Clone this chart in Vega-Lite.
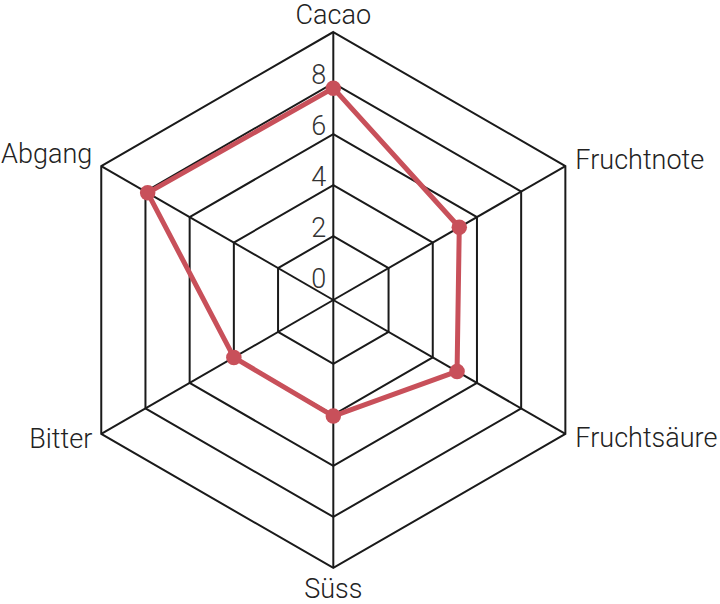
{
  "$schema": "https://vega.github.io/schema/vega-lite/v6.json",
  "width": 720,
  "height": 604,
  "padding": 0,
  "autosize": {"type": "none"},
  "config": {
    "view": {"stroke": null},
    "text": {"font": "Roboto", "fontWeight": 300, "fontSize": 27, "color": "#222222"}
  },
  "datasets": {
    "taste": [
      {"axis": "Cacao", "i": 0, "value": 7.8},
      {"axis": "Fruchtnote", "i": 1, "value": 5.2},
      {"axis": "Fruchtsäure", "i": 2, "value": 5.1},
      {"axis": "Süss", "i": 3, "value": 4.05},
      {"axis": "Bitter", "i": 4, "value": 4},
      {"axis": "Abgang", "i": 5, "value": 7.9}
    ],
    "grid": [
      {"level": 2, "i": 0}, {"level": 2, "i": 1}, {"level": 2, "i": 2}, {"level": 2, "i": 3}, {"level": 2, "i": 4}, {"level": 2, "i": 5},
      {"level": 4, "i": 0}, {"level": 4, "i": 1}, {"level": 4, "i": 2}, {"level": 4, "i": 3}, {"level": 4, "i": 4}, {"level": 4, "i": 5},
      {"level": 6, "i": 0}, {"level": 6, "i": 1}, {"level": 6, "i": 2}, {"level": 6, "i": 3}, {"level": 6, "i": 4}, {"level": 6, "i": 5},
      {"level": 8, "i": 0}, {"level": 8, "i": 1}, {"level": 8, "i": 2}, {"level": 8, "i": 3}, {"level": 8, "i": 4}, {"level": 8, "i": 5},
      {"level": 10, "i": 0}, {"level": 10, "i": 1}, {"level": 10, "i": 2}, {"level": 10, "i": 3}, {"level": 10, "i": 4}, {"level": 10, "i": 5}
    ],
    "ticks": [
      {"level": 0}, {"level": 2}, {"level": 4}, {"level": 6}, {"level": 8}
    ]
  },
  "encoding": {
    "x": {
      "field": "px",
      "type": "quantitative",
      "scale": {"domain": [-13.061, 15.153], "nice": false, "zero": false},
      "axis": null
    },
    "y": {
      "field": "py",
      "type": "quantitative",
      "scale": {"domain": [-11.912, 11.755], "nice": false, "zero": false},
      "axis": null
    }
  },
  "layer": [
    {
      "data": {"name": "grid"},
      "transform": [
        {"calculate": "(datum.level + 0.5) * sin(datum.i * PI / 3)", "as": "px"},
        {"calculate": "(datum.level + 0.5) * cos(datum.i * PI / 3)", "as": "py"}
      ],
      "mark": {"type": "line", "interpolate": "linear-closed", "stroke": "#1a1a1a", "strokeWidth": 2},
      "encoding": {
        "detail": {"field": "level"},
        "order": {"field": "i"}
      }
    },
    {
      "data": {"name": "taste"},
      "transform": [
        {"calculate": "10.5 * sin(datum.i * PI / 3)", "as": "px"},
        {"calculate": "10.5 * cos(datum.i * PI / 3)", "as": "py"}
      ],
      "mark": {"type": "rule", "stroke": "#1a1a1a", "strokeWidth": 2},
      "encoding": {
        "x2": {"datum": 0},
        "y2": {"datum": 0}
      }
    },
    {
      "data": {"name": "ticks"},
      "transform": [
        {"calculate": "0", "as": "px"},
        {"calculate": "datum.level + 0.5", "as": "py"}
      ],
      "mark": {"type": "text", "align": "right", "baseline": "alphabetic", "dx": -7, "dy": 1, "color": "#333333"},
      "encoding": {"text": {"field": "level"}}
    },
    {
      "data": {"name": "taste"},
      "transform": [
        {"calculate": "(datum.value + 0.5) * sin(datum.i * PI / 3)", "as": "px"},
        {"calculate": "(datum.value + 0.5) * cos(datum.i * PI / 3)", "as": "py"}
      ],
      "mark": {"type": "line", "interpolate": "linear-closed", "stroke": "#c8505a", "strokeWidth": 5, "strokeJoin": "round"},
      "encoding": {"order": {"field": "i"}}
    },
    {
      "data": {"name": "taste"},
      "transform": [
        {"calculate": "(datum.value + 0.5) * sin(datum.i * PI / 3)", "as": "px"},
        {"calculate": "(datum.value + 0.5) * cos(datum.i * PI / 3)", "as": "py"}
      ],
      "mark": {"type": "point", "filled": true, "size": 240, "color": "#c8505a", "opacity": 1},
      "encoding": {}
    },
    {
      "data": {"name": "taste"},
      "transform": [
        {"filter": "datum.i == 0"},
        {"calculate": "10.5 * sin(datum.i * PI / 3)", "as": "px"},
        {"calculate": "10.5 * cos(datum.i * PI / 3)", "as": "py"}
      ],
      "mark": {"type": "text", "align": "center", "baseline": "top", "dy": -29},
      "encoding": {"text": {"field": "axis"}}
    },
    {
      "data": {"name": "taste"},
      "transform": [
        {"filter": "datum.i == 1"},
        {"calculate": "10.5 * sin(datum.i * PI / 3)", "as": "px"},
        {"calculate": "10.5 * cos(datum.i * PI / 3)", "as": "py"}
      ],
      "mark": {"type": "text", "align": "left", "baseline": "alphabetic", "dx": 10, "dy": 3},
      "encoding": {"text": {"field": "axis"}}
    },
    {
      "data": {"name": "taste"},
      "transform": [
        {"filter": "datum.i == 2"},
        {"calculate": "10.5 * sin(datum.i * PI / 3)", "as": "px"},
        {"calculate": "10.5 * cos(datum.i * PI / 3)", "as": "py"}
      ],
      "mark": {"type": "text", "align": "left", "baseline": "alphabetic", "dx": 10, "dy": 13},
      "encoding": {"text": {"field": "axis"}}
    },
    {
      "data": {"name": "taste"},
      "transform": [
        {"filter": "datum.i == 3"},
        {"calculate": "10.5 * sin(datum.i * PI / 3)", "as": "px"},
        {"calculate": "10.5 * cos(datum.i * PI / 3)", "as": "py"}
      ],
      "mark": {"type": "text", "align": "center", "baseline": "alphabetic", "dy": 30},
      "encoding": {"text": {"field": "axis"}}
    },
    {
      "data": {"name": "taste"},
      "transform": [
        {"filter": "datum.i == 4"},
        {"calculate": "10.5 * sin(datum.i * PI / 3)", "as": "px"},
        {"calculate": "10.5 * cos(datum.i * PI / 3)", "as": "py"}
      ],
      "mark": {"type": "text", "align": "right", "baseline": "alphabetic", "dx": -9, "dy": 14},
      "encoding": {"text": {"field": "axis"}}
    },
    {
      "data": {"name": "taste"},
      "transform": [
        {"filter": "datum.i == 5"},
        {"calculate": "10.5 * sin(datum.i * PI / 3)", "as": "px"},
        {"calculate": "10.5 * cos(datum.i * PI / 3)", "as": "py"}
      ],
      "mark": {"type": "text", "align": "right", "baseline": "alphabetic", "dx": -9, "dy": -3},
      "encoding": {"text": {"field": "axis"}}
    }
  ]
}
